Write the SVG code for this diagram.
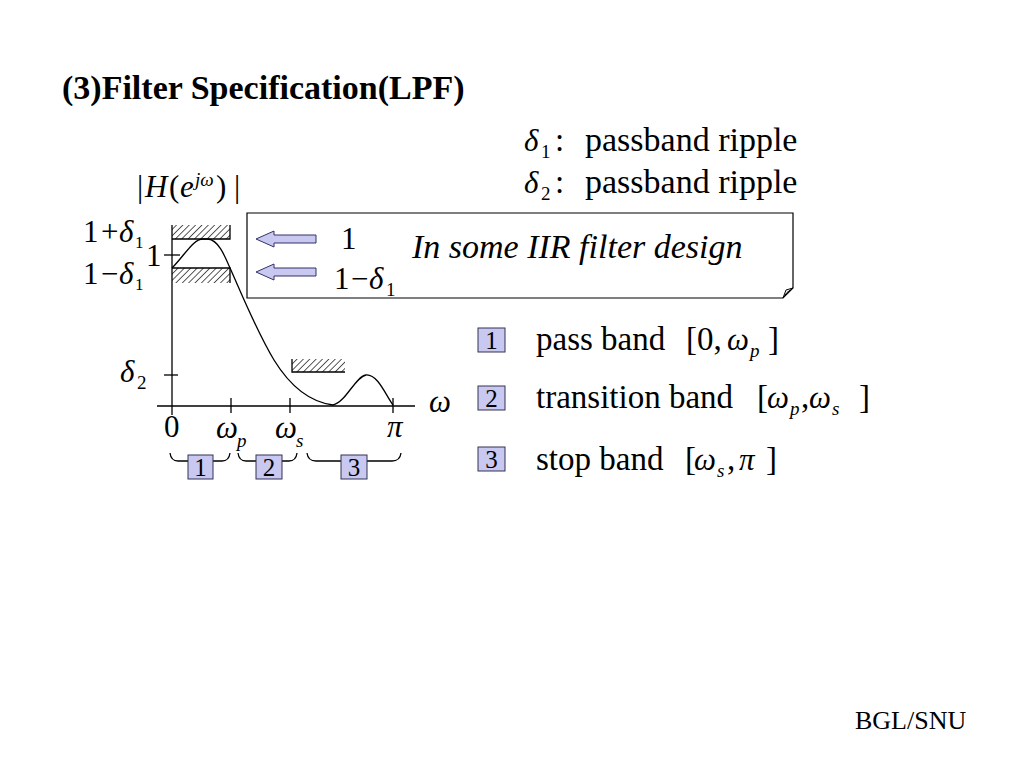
<svg xmlns="http://www.w3.org/2000/svg" width="1024" height="768" viewBox="0 0 1024 768">
<defs>
<style>
.t{font-size:33px}
.m{font-size:31px}
.g{font-size:31px;font-style:italic}
.s{font-size:19px}
.si{font-size:19px;font-style:italic}
.ln{stroke:#000;stroke-width:1.3;fill:none}
.nb{fill:#c8c8f0;stroke:#333355;stroke-width:1}
.nt{font-size:25px;text-anchor:middle}
.ar{fill:#c8c8f0;stroke:#333366;stroke-width:1}
</style>
<pattern id="hatch" patternUnits="userSpaceOnUse" width="4.5" height="4.5" patternTransform="rotate(45)">
<line x1="0" y1="0" x2="0" y2="4.5" stroke="#000" stroke-width="1.3"/>
</pattern>
</defs>
<rect width="1024" height="768" fill="#fff"/>
<g font-family="Liberation Serif" fill="#000">

<text x="62" y="99" font-size="34" font-weight="bold">(3)Filter Specification(LPF)</text>

<g id="ripple-defs">
<text x="524" y="151" class="g">δ</text><text x="541" y="158" class="s">1</text>
<text x="555" y="151" class="t">:</text>
<text x="585" y="151" font-size="34">passband ripple</text>
<text x="524" y="193" class="g">δ</text><text x="541" y="200" class="s">2</text>
<text x="555" y="193" class="t">:</text>
<text x="585" y="193" font-size="34">passband ripple</text>
</g>

<g id="plot">
<text x="137" y="197" class="m">|</text>
<text x="145" y="197" class="g">H</text>
<text x="169" y="197" class="m">(</text>
<text x="180" y="197" class="g">e</text>
<text x="195" y="186" class="si">jω</text>
<text x="216" y="197" class="m">)</text>
<text x="234" y="197" class="m">|</text>

<rect x="172" y="225" width="58" height="14" fill="url(#hatch)"/>
<path class="ln" d="M172,239 H230 V225"/>
<rect x="172" y="268" width="58" height="15" fill="url(#hatch)"/>
<path class="ln" d="M172,268 H230 V283"/>
<rect x="292" y="359" width="53" height="13" fill="url(#hatch)"/>
<path class="ln" d="M292,359 V372 H345"/>

<line class="ln" x1="172" y1="225" x2="172" y2="415"/>
<line class="ln" x1="157" y1="406" x2="415" y2="406"/>
<line class="ln" x1="164" y1="255" x2="180" y2="255"/>
<line class="ln" x1="164" y1="375" x2="178" y2="375"/>
<line class="ln" x1="231" y1="398" x2="231" y2="413"/>
<line class="ln" x1="290" y1="398" x2="290" y2="413"/>
<line class="ln" x1="393" y1="398" x2="393" y2="413"/>

<path class="ln" d="M172,268 C185,255 193,239 203,239 L208,239 C218,240 224,254 230,268 C240,290 256,330 274,360 C290,386 310,402 333,405 C346,402 355,377 366,375 C378,374 386,396 393,405"/>

<text x="83" y="242" class="m">1</text><text x="101" y="242" class="m">+</text><text x="119" y="242" class="g">δ</text><text x="135" y="248" font-size="17">1</text>
<text x="146" y="266" class="m">1</text>
<text x="83" y="284" class="m">1</text><text x="101" y="284" class="m">−</text><text x="119" y="284" class="g">δ</text><text x="135" y="290" font-size="17">1</text>
<text x="120" y="382" class="g">δ</text><text x="137" y="389" class="s">2</text>

<text x="164" y="437" class="m">0</text>
<text x="216" y="438" class="g">ω</text><text x="237" y="447" class="si">p</text>
<text x="275" y="438" class="g">ω</text><text x="296" y="447" class="si">s</text>
<text x="387" y="437" class="g">π</text>
<text x="429" y="412" class="g">ω</text>
</g>

<g id="braces">
<path class="ln" d="M170,453 Q171,461 178,461 H188 M213,461 H222 Q229,461 230,453"/>
<path class="ln" d="M238,453 Q239,461 246,461 H256 M282,461 H289 Q296,461 297,453"/>
<path class="ln" d="M307,453 Q308,461 316,461 H341 M367,461 H392 Q400,461 401,453"/>
</g>
<g id="band1"><rect class="nb" x="188" y="455" width="25" height="24"/><text class="nt" x="200.5" y="476">1</text></g>
<g id="band2"><rect class="nb" x="256" y="455" width="26" height="24"/><text class="nt" x="269" y="476">2</text></g>
<g id="band3"><rect class="nb" x="341" y="455" width="26" height="24"/><text class="nt" x="354" y="476">3</text></g>

<g id="note">
<path d="M247,213 H793 V288 L783,298 H247 Z" fill="#fff" stroke="#000" stroke-width="1.2"/>
<path d="M793,288 L786,290 L783,298 Q786,292 793,288 Z" fill="#fff" stroke="#000" stroke-width="1"/>
<path class="ar" d="M256,239 L274,231 V235 H316 V243 H274 V247 Z"/>
<path class="ar" d="M256,272 L274,264 V268 H316 V276 H274 V280 Z"/>
<text x="341" y="249" class="m">1</text>
<text x="334" y="289" class="m">1</text><text x="351" y="289" class="m">−</text><text x="369" y="289" class="g">δ</text><text x="386" y="296" class="s">1</text>
<text x="412" y="258" font-size="34" font-style="italic">In some IIR filter design</text>
</g>

<g id="item1">
<rect class="nb" x="478" y="328" width="27" height="24"/><text class="nt" x="491.5" y="349">1</text>
<text x="536" y="350" class="t">pass band</text>
<text x="686" y="350" class="t">[0,</text>
<text x="727" y="350" class="g">ω</text><text x="750" y="357" class="si">p</text>
<text x="768" y="350" class="t">]</text>
</g>
<g id="item2">
<rect class="nb" x="478" y="386" width="27" height="24"/><text class="nt" x="491.5" y="407">2</text>
<text x="536" y="408" class="t">transition band</text>
<text x="757" y="408" class="t">[</text>
<text x="767" y="408" class="g">ω</text><text x="790" y="415" class="si">p</text>
<text x="801" y="408" class="t">,</text>
<text x="809" y="408" class="g">ω</text><text x="832" y="415" class="si">s</text>
<text x="859" y="408" class="t">]</text>
</g>
<g id="item3">
<rect class="nb" x="478" y="447" width="27" height="24"/><text class="nt" x="491.5" y="468">3</text>
<text x="536" y="470" class="t">stop band</text>
<text x="685" y="470" class="t">[</text>
<text x="694" y="470" class="g">ω</text><text x="717" y="477" class="si">s</text>
<text x="727" y="470" class="t">,</text>
<text x="739" y="470" class="g">π</text>
<text x="766" y="470" class="t">]</text>
</g>

<text x="855" y="729" font-size="26">BGL/SNU</text>
</g>
</svg>
